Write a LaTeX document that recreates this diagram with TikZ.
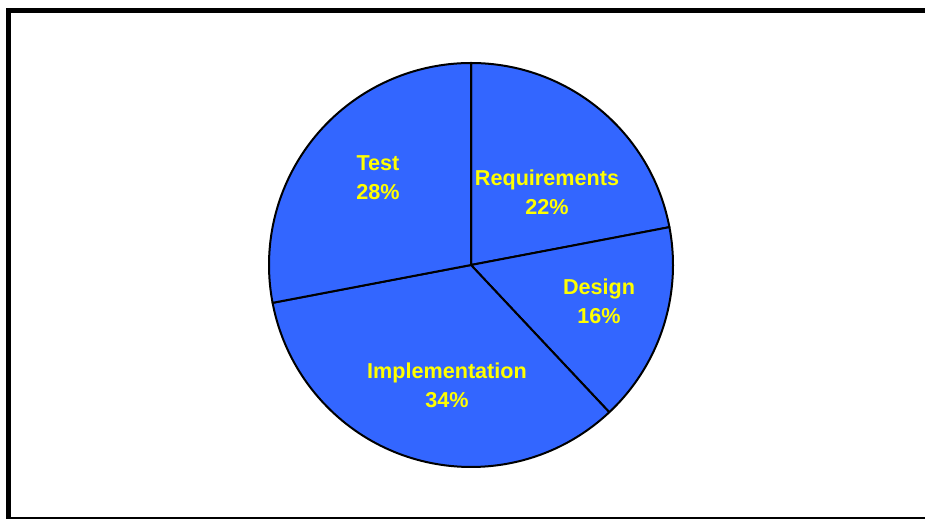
\documentclass[tikz,border=0pt]{standalone}
\usepackage{fontspec}
\setmainfont{Liberation Sans}
\definecolor{sliceblue}{rgb}{0.2,0.4,1}
\definecolor{labelyellow}{rgb}{1,1,0}
\newcommand{\lb}{\bfseries\fontsize{21.6}{29}\selectfont}
\newcommand{\rad}{202}
\begin{document}
\begin{tikzpicture}[x = 1pt, y = 1pt,
  slice/.style = {fill = sliceblue, draw = black, line width = 2pt, line join = round},
  lbl/.style = {align = center, text = labelyellow, font = \lb}]
\useasboundingbox (0,0) rectangle (925,519);
\draw [line width = 5pt] (925,508.5) -- (8.5,508.5) -- (8.5,0);
\draw [line width = 2pt] (6,1.5) -- (925,1.5);

\coordinate (c) at (471,254);
\draw [slice] (c) -- ++(90:\rad) arc (90:10.8:\rad) -- cycle;
\draw [slice] (c) -- ++(10.8:\rad) arc (10.8:-46.8:\rad) -- cycle;
\draw [slice] (c) -- ++(-46.8:\rad) arc (-46.8:-169.2:\rad) -- cycle;
\draw [slice] (c) -- ++(-169.2:\rad) arc (-169.2:-270:\rad) -- cycle;

\node [lbl] (req) at (547,326.5) {Requirements\\22\%};
\node [lbl] (design) at (599,217.5) {Design\\16\%};
\node [lbl] (impl) at (447,133.5) {Implementation\\34\%};
\node [lbl] (test) at (378,341.5) {Test\\28\%};
\end{tikzpicture}
\end{document}
